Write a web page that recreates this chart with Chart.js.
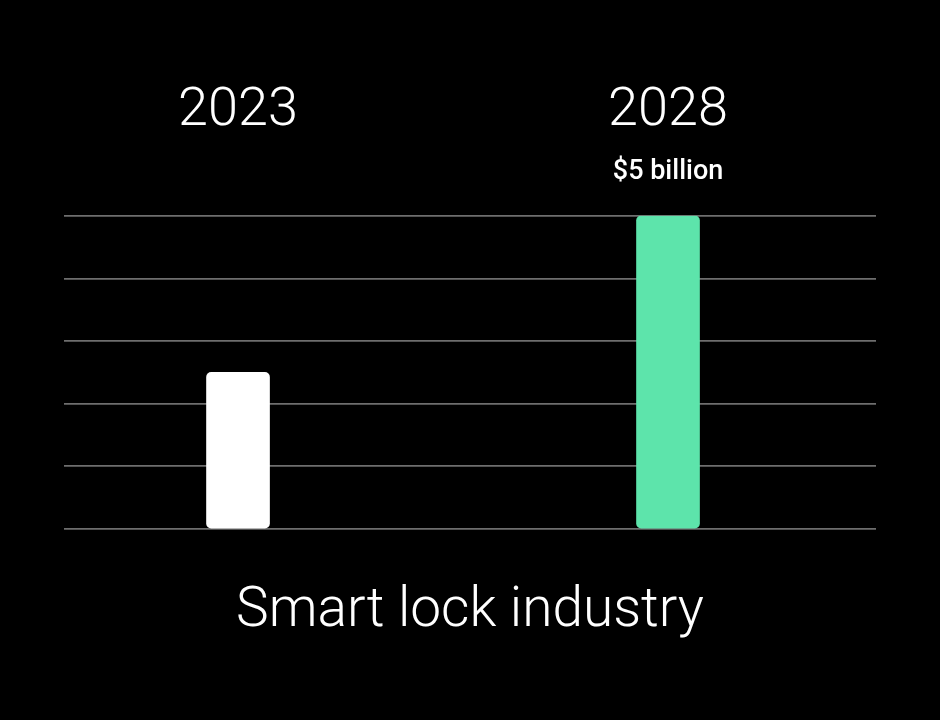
<!DOCTYPE html>
<html>
<head>
<meta charset="utf-8">
<script src="https://cdn.jsdelivr.net/npm/chart.js@4/dist/chart.umd.min.js"></script>
<style>
  html, body { margin: 0; padding: 0; background: #000; }
  #wrap { width: 940px; height: 720px; }
</style>
</head>
<body>
<div id="wrap"><canvas id="bar-chart"></canvas></div>
<script>
const years = ["2023", "2028"];
const marketSize = [2.5, 5];
const valueLabels = ["", "$5 billion"];
const barColors = ["#ffffff", "#5de4ab"];

// small label above the bars
const valueLabelPlugin = {
  id: "valueLabels",
  afterDatasetsDraw(chart) {
    const { ctx } = chart;
    const meta = chart.getDatasetMeta(0);
    ctx.save();
    ctx.fillStyle = "#ffffff";
    ctx.font = "500 27px Roboto";
    ctx.textAlign = "center";
    ctx.textBaseline = "middle";
    meta.data.forEach((bar, i) => {
      if (valueLabels[i]) ctx.fillText(valueLabels[i], bar.x, bar.y - 44);
    });
    ctx.restore();
  },
};

(function marketBarChart() {
  const ctx = document.getElementById("bar-chart");

  new Chart(ctx, {
    type: "bar",
    data: {
      datasets: [
        {
          data: marketSize.map((v, i) => ({ x: i, y: v })),
          backgroundColor: barColors,
          borderWidth: 0,
          borderRadius: 5,
          borderSkipped: false,
          barThickness: 63,
        },
      ],
    },
    plugins: [valueLabelPlugin],
    options: {
      responsive: true,
      maintainAspectRatio: false,
      animation: false,
      layout: {
        padding: { left: 64, right: 64, top: 7, bottom: 0 },
      },
      scales: {
        x: {
          type: "linear",
          position: "top",
          offset: false,
          min: -0.4047,
          max: 1.4837,
          afterBuildTicks: (axis) => {
            axis.ticks = years.map((_, i) => ({ value: i }));
          },
          ticks: {
            color: "#ffffff",
            font: { family: "Roboto", size: 54, weight: 300 },
            padding: 72,
            maxRotation: 0,
            callback: (value) => years[value],
          },
          grid: { display: false, drawTicks: false, offset: false },
          border: { display: false },
        },
        y: {
          min: 0,
          max: 5,
          ticks: { display: false, stepSize: 1 },
          grid: {
            color: "#6e6e6e",
            lineWidth: 1.8,
            drawTicks: false,
          },
          border: { display: false },
        },
      },
      plugins: {
        legend: { display: false },
        tooltip: { enabled: false },
        title: {
          display: true,
          position: "bottom",
          text: "Smart lock industry",
          color: "#ffffff",
          font: { family: "Roboto", size: 55, weight: 300 },
          padding: { top: 50, bottom: 75 },
        },
      },
    },
  });
})();
</script>
</body>
</html>
